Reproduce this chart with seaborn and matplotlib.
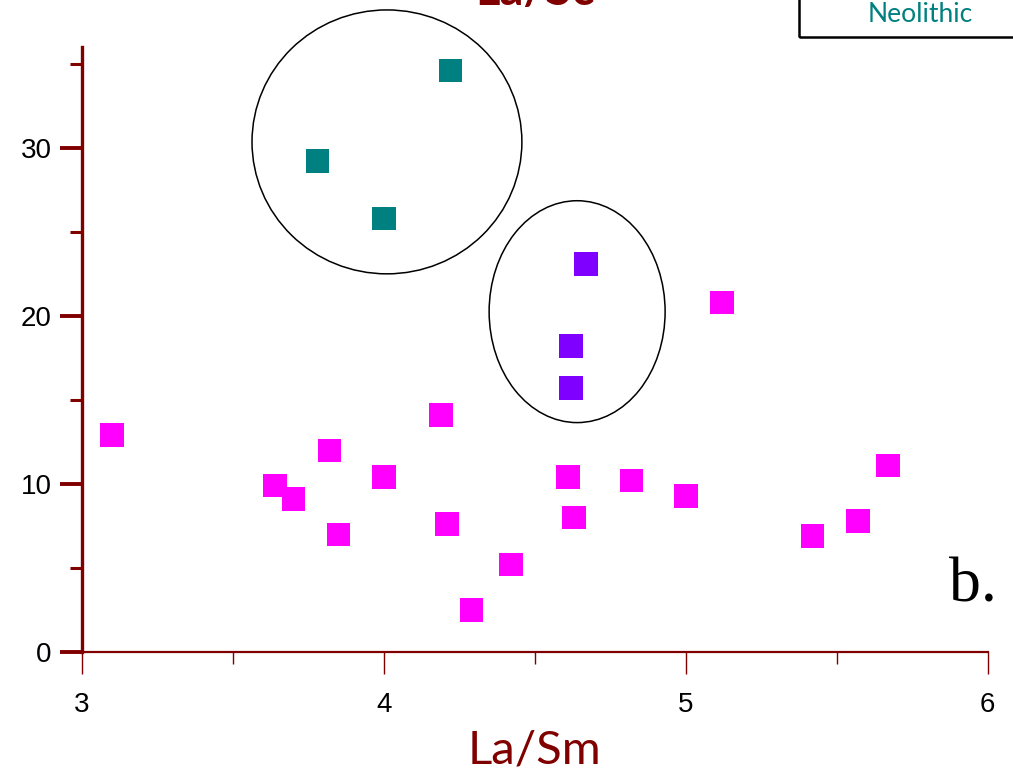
import pandas as pd
import matplotlib
matplotlib.use("Agg")
import matplotlib.pyplot as plt
from matplotlib.patches import Ellipse
from matplotlib.ticker import MultipleLocator
import seaborn as sns

# values
neo_x = [4.22, 3.78, 4.00]
neo_y = [34.6, 29.2, 25.8]
grp2_x = [4.67, 4.62, 4.62]
grp2_y = [23.1, 18.2, 15.7]
other_x = [3.10, 3.64, 3.70, 3.82, 3.85, 4.00, 4.19, 4.21, 4.29, 4.42,
           4.61, 4.63, 4.82, 5.00, 5.12, 5.42, 5.57, 5.67]
other_y = [12.9, 9.9, 9.1, 12.0, 7.0, 10.4, 14.1, 7.6, 2.5, 5.2,
           10.4, 8.0, 10.2, 9.3, 20.8, 6.9, 7.8, 11.1]

groups = ["Neolithic", "Group 2", "Other"]
colors = {"Neolithic": "#008080", "Group 2": "#8000FF", "Other": "#FF00FF"}

df = pd.concat([
    pd.DataFrame({"La/Sm": neo_x, "La/Sc": neo_y, "group": "Neolithic"}),
    pd.DataFrame({"La/Sm": grp2_x, "La/Sc": grp2_y, "group": "Group 2"}),
    pd.DataFrame({"La/Sm": other_x, "La/Sc": other_y, "group": "Other"}),
])

sns.set_style("white")
plt.rcParams["font.family"] = ["Liberation Sans", "DejaVu Sans"]
dark_red = "#800000"

fig = plt.figure(figsize=(10.13, 7.82), dpi=100)
ax = fig.add_axes([0.081, 0.1662, 0.894, 0.7738])

sns.scatterplot(data=df, x="La/Sm", y="La/Sc", hue="group", hue_order=groups,
                palette=colors, marker="s", s=290, linewidth=0,
                legend=False, ax=ax, clip_on=False, zorder=3)

# circled groups
ax.add_patch(Ellipse((4.01, 30.35), 0.894, 15.7, fill=False, ec="black",
                     lw=1.1, clip_on=False))
ax.add_patch(Ellipse((4.64, 20.25), 0.583, 13.2, fill=False, ec="black",
                     lw=1.1, clip_on=False))

ax.set_xlim(3, 6)
ax.set_ylim(0, 36)
ax.xaxis.set_major_locator(MultipleLocator(1))
ax.xaxis.set_minor_locator(MultipleLocator(0.5))
ax.yaxis.set_major_locator(MultipleLocator(10))
ax.yaxis.set_minor_locator(MultipleLocator(5))

for side in ["top", "right"]:
    ax.spines[side].set_visible(False)
ax.spines["left"].set_color(dark_red)
ax.spines["left"].set_linewidth(2.4)
ax.spines["bottom"].set_color(dark_red)
ax.spines["bottom"].set_linewidth(1.6)

ax.tick_params(axis="y", which="major", direction="out", length=16, width=2.8,
               color=dark_red, labelsize=20, labelcolor="black", pad=6, left=True)
ax.tick_params(axis="y", which="minor", direction="out", length=8.5, width=2.2,
               color=dark_red, left=True)
ax.tick_params(axis="x", which="major", direction="out", length=16, width=1.0,
               color=dark_red, labelsize=20, labelcolor="black", pad=13,
               bottom=True)
ax.tick_params(axis="x", which="minor", direction="out", length=8.5, width=1.0,
               color=dark_red, bottom=True)

ax.set_xlabel("La/Sm", fontsize=34, color=dark_red, family="Lato", labelpad=8)
ax.set_ylabel("")

# title, cut by the top of the picture as in the source
fig.text(0.528, 1 - 5 / 782, "La/Sc", fontsize=34, color=dark_red,
         family="Lato", fontweight="bold", ha="center", va="baseline")

# legend box in the corner
fig.text(0.908, 0.982, "Neolithic", fontsize=19, color="#008080", family="Lato",
         ha="center", va="center")
fig.patches.append(plt.Rectangle((799 / 1013, 1 - 37 / 782), 0.3, 0.1,
                                 transform=fig.transFigure, fill=False,
                                 ec="black", lw=1.8, figure=fig))

ax.text(5.95, 3.0, "b.", fontsize=46, family="Liberation Serif", color="black",
        ha="center", va="baseline")

fig.savefig("out.png", dpi=100)
